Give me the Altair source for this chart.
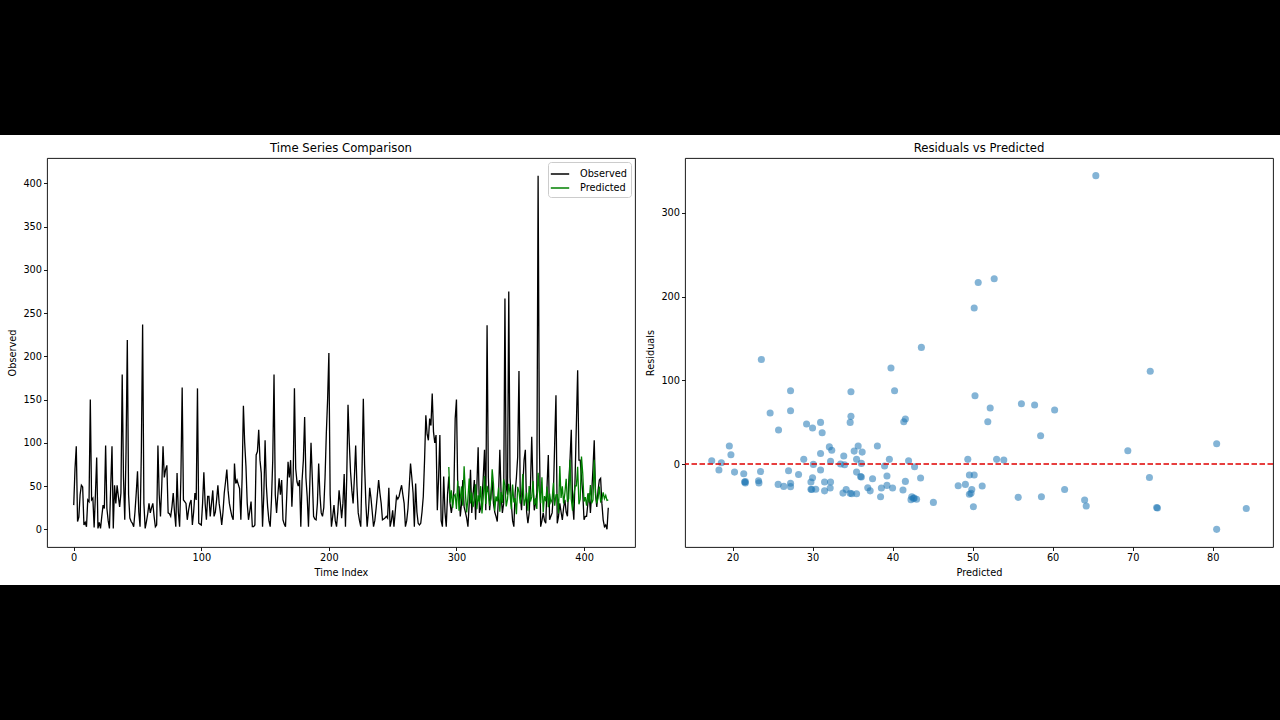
import altair as alt
import pandas as pd

# ---------------- data ----------------
observed = [
    28, 70, 96, 9, 14, 40, 51, 49, 5, 8, 3, 34, 32, 150, 34, 36, 2, 40, 83, 1,
    8, 1, 15, 28, 24, 97, 24, 10, 1, 50, 96, 1, 51, 30, 51, 38, 26, 42, 179, 60,
    11, 90, 219, 40, 13, 9, 7, 3, 20, 42, 67, 20, 3, 90, 237, 30, 1, 9, 18, 30,
    19, 25, 30, 15, 3, 5, 97, 40, 15, 50, 96, 60, 69, 74, 19, 18, 15, 26, 42, 20,
    3, 65, 20, 3, 60, 164, 34, 32, 30, 11, 22, 30, 34, 5, 20, 42, 34, 163, 7, 6,
    5, 30, 66, 30, 11, 38, 38, 15, 30, 45, 15, 20, 34, 51, 30, 19, 5, 20, 42, 55,
    69, 45, 30, 22, 15, 11, 76, 53, 57, 52, 47, 11, 60, 143, 100, 73, 30, 11, 21, 32,
    3, 3, 5, 86, 90, 115, 80, 65, 3, 40, 103, 50, 26, 10, 3, 34, 80, 179, 40, 19,
    40, 59, 40, 57, 11, 6, 3, 40, 78, 60, 80, 26, 60, 163, 70, 55, 50, 57, 3, 57,
    80, 130, 60, 38, 3, 50, 100, 60, 15, 12, 11, 30, 76, 40, 19, 15, 25, 60, 111, 150,
    204, 40, 3, 15, 28, 10, 3, 20, 45, 30, 13, 30, 64, 3, 60, 144, 100, 66, 45, 30,
    60, 97, 50, 19, 10, 3, 70, 151, 74, 30, 3, 20, 48, 36, 20, 3, 10, 24, 40, 57,
    42, 30, 11, 12, 13, 15, 13, 48, 3, 10, 22, 3, 20, 38, 35, 38, 45, 51, 40, 30,
    3, 10, 24, 50, 76, 60, 42, 3, 53, 20, 7, 5, 7, 20, 38, 80, 132, 110, 103, 128,
    120, 157, 113, 100, 109, 22, 60, 109, 10, 3, 61, 20, 3, 40, 61, 30, 19, 30, 45, 128,
    150, 49, 49, 15, 30, 57, 26, 20, 13, 3, 30, 69, 19, 40, 57, 11, 50, 95, 19, 25,
    34, 60, 92, 22, 236, 60, 22, 40, 57, 30, 20, 15, 9, 40, 92, 40, 19, 30, 267, 49,
    40, 275, 60, 30, 10, 3, 42, 60, 84, 183, 40, 22, 50, 80, 92, 20, 7, 19, 50, 107,
    50, 22, 30, 42, 409, 100, 3, 10, 19, 10, 7, 50, 86, 11, 15, 19, 42, 100, 155, 7,
    15, 30, 20, 11, 25, 34, 20, 15, 53, 80, 115, 30, 11, 60, 122, 184, 80, 80, 60, 42,
    11, 15, 15, 30, 42, 19, 42, 70, 103, 40, 26, 45, 57, 59, 30, 11, 3, 5, 0, 25,
]

pred_start = 294  # first time index of the prediction period

predicted = [
    72.1, 31.0, 45.1, 24.7, 38.6, 40.25, 23.6, 56.1, 21.5, 35.5,
    49.6, 27.25, 73.0, 41.6, 19.6, 36.1, 58.6, 30.0, 42.4, 25.75,
    34.2, 52.2, 23.3, 39.3, 31.5, 49.9, 18.3, 36.9, 61.5, 29.25,
    50.2, 42.0, 27.0, 35.2, 69.4, 53.0, 21.4, 38.1, 32.25, 48.2,
    20.25, 43.0, 30.4, 57.75, 50.7, 26.4, 34.7, 52.7, 41.3, 23.25,
    51.9, 31.2, 36.0, 17.4, 49.1, 43.6, 29.8, 39.0, 64.0, 27.25,
    33.9, 42.6, 21.6, 50.1, 32.1, 37.5, 55.7, 28.25, 35.7, 23.5,
    65.4, 43.5, 30.1, 60.25, 19.8, 38.5, 32.4, 49.6, 25.7, 41.4,
    31.0, 34.8, 53.9, 27.25, 39.8, 40.0, 18.6, 73.1, 36.2, 49.8,
    29.8, 42.3, 58.5, 31.5, 35.5, 80.5, 34.8, 21.6, 39.6, 50.2,
    50.3, 72.2, 28.9, 34.9, 84.2, 64.2, 32.2, 37.2, 27.25, 41.6,
    31.0, 51.2, 30.0, 33.8, 80.5, 42.75, 29.9, 36.1, 49.4, 32.25,
    34.7, 42.7, 35.5, 39.3, 33.5, 34.0,
]

residuals = [
    -16, 49.8, -45.8, 61, -28.7, 87.6, 125, 72, -21.5, 5.6,
    -13, -23, -52, 53.8, 21.5, 0.8, -39, -16.3, -39, 40.6,
    -30.3, 67, -22.5, -14.3, -32, -30.3, -7, -28.3, -30.3, 47.8,
    186.5, 4, -8, 15.5, 16, 5.6, -11.6, 21.5, 3.2, -26,
    -9.6, -42, -30, 70.5, 217, -26.7, 49.8, 221.5, -31, -20,
    50.6, 37.4, -15, 4, -24.3, 139.4, -21.5, -2.4, -43, 63.7,
    9.6, -41, -22.5, -51, 20.5, -17.5, -39.8, -12.4, 21.5, -8.8,
    344.6, -16.7, -0.4, 64.5, 11.2, -39, 16.5, -36, -24.3, 50.6,
    12.7, 57, 4.8, -27, 114.7, -28.7, 1.6, -52.5, 14.3, -35,
    -30, -42.5, 33.9, -21.5, -9.6, -78, 86.5, -21, 5.6, -13,
    81.7, 110.8, 5.6, -35.5, -53, -50.2, -28.7, -32, 87.6, -20.7,
    -7.2, -26.3, 43, -34.7, 24.3, -3.2, -30.5, -15.5, 5.6, -21.5,
    -35, -40.5, -35.5, -25.5, 0, -0.8,
]

series_names = ["Observed", "Predicted"]
series_colors = ["black", "green"]
zero_line = [0]

ts_x_ticks = [0, 100, 200, 300, 400]
ts_y_ticks = [0, 50, 100, 150, 200, 250, 300, 350, 400]
sc_x_ticks = [20, 30, 40, 50, 60, 70, 80]
sc_y_ticks = [0, 100, 200, 300]

# ---------------- tables ----------------
obs_df = pd.DataFrame({"t": list(range(len(observed))), "value": observed, "series": series_names[0]})
pred_df = pd.DataFrame({"t": list(range(pred_start, pred_start + len(predicted))),
                        "value": predicted, "series": series_names[1]})
sc_df = pd.DataFrame({"predicted": predicted, "residual": residuals})
zero_df = pd.DataFrame({"r": zero_line})
bar_df = pd.DataFrame({"k": [0]})

FONT = "DejaVu Sans"
PW, PH = 588, 389
LEFT = 47  # room on the page left of the first plot
FRAME = alt.ViewBackground(stroke="black", strokeWidth=0.9)

# ---------------- left: time series ----------------
color = alt.Color(
    "series:N",
    scale=alt.Scale(domain=series_names, range=series_colors),
    legend=alt.Legend(title=None, orient="top-right", offset=4, fillColor="white",
                      strokeColor="#cccccc", cornerRadius=3, padding=4,
                      symbolType="M-1.3,0H1.3", symbolStrokeWidth=1.5, symbolSize=200,
                      labelFontSize=9.75, labelFont=FONT, labelColor="black",
                      rowPadding=1, labelOffset=12),
)
tx = alt.X("t:Q", scale=alt.Scale(domain=[-20.95, 439.95], nice=False, zero=False),
           axis=alt.Axis(values=ts_x_ticks, title="Time Index"))
ty = alt.Y("value:Q", scale=alt.Scale(domain=[-20.45, 429.45], nice=False, zero=False),
           axis=alt.Axis(values=ts_y_ticks, title="Observed"))

obs_line = alt.Chart(obs_df).mark_line(strokeWidth=1.3).encode(x=tx, y=ty, color=color)
pred_line = alt.Chart(pred_df).mark_line(strokeWidth=1.3).encode(x=tx, y=ty, color=color)
left = alt.layer(obs_line, pred_line).properties(
    width=PW, height=PH, title="Time Series Comparison", view=FRAME)

# ---------------- right: residuals ----------------
sx = alt.X("predicted:Q", scale=alt.Scale(domain=[14.06, 87.54], nice=False, zero=False),
           axis=alt.Axis(values=sc_x_ticks, title="Predicted"))
sy = alt.Y("residual:Q", scale=alt.Scale(domain=[-99.1, 365.7], nice=False, zero=False),
           axis=alt.Axis(values=sc_y_ticks, title="Residuals"))
pts = alt.Chart(sc_df).mark_circle(size=50, opacity=0.55, color="#1f77b4").encode(x=sx, y=sy)
zero = alt.Chart(zero_df).mark_rule(color="#e00000", strokeDash=[5.5, 2.5], strokeWidth=1.4).encode(
    y=alt.Y("r:Q"))
right = alt.layer(pts, zero).properties(
    width=PW, height=PH, title="Residuals vs Predicted", view=FRAME)

middle = alt.hconcat(left, right, spacing=9).resolve_scale(color="independent").resolve_legend(
    color="independent")


def black_bar(h, top, bottom):
    # letterbox band spanning the whole page width (the page starts LEFT px left of the plots)
    return alt.Chart(bar_df).mark_rect(color="black").encode(
        x=alt.value(-LEFT), x2=alt.value(1280 - LEFT), y=alt.value(top), y2=alt.value(bottom)
    ).properties(width=1280 - LEFT, height=h, view=alt.ViewBackground(strokeWidth=0))


chart = alt.vconcat(black_bar(142, 0, 135), middle, black_bar(142, 7, 142), spacing=0).resolve_scale(
    color="independent").resolve_legend(color="independent").properties(
    padding=0, background="white"
).configure_axis(
    grid=False, domain=False, tickColor="black", tickSize=3.5, tickWidth=0.9,
    labelFont=FONT, labelFontSize=9.75, labelColor="black", labelPadding=2,
    titleFont=FONT, titleFontSize=9.75, titleFontWeight="normal", titleColor="black", titlePadding=5,
).configure_title(
    font=FONT, fontSize=11.7, fontWeight="normal", color="black", offset=3, anchor="middle"
)

chart.save("out.html", embed_options={"renderer": "svg", "actions": False})
